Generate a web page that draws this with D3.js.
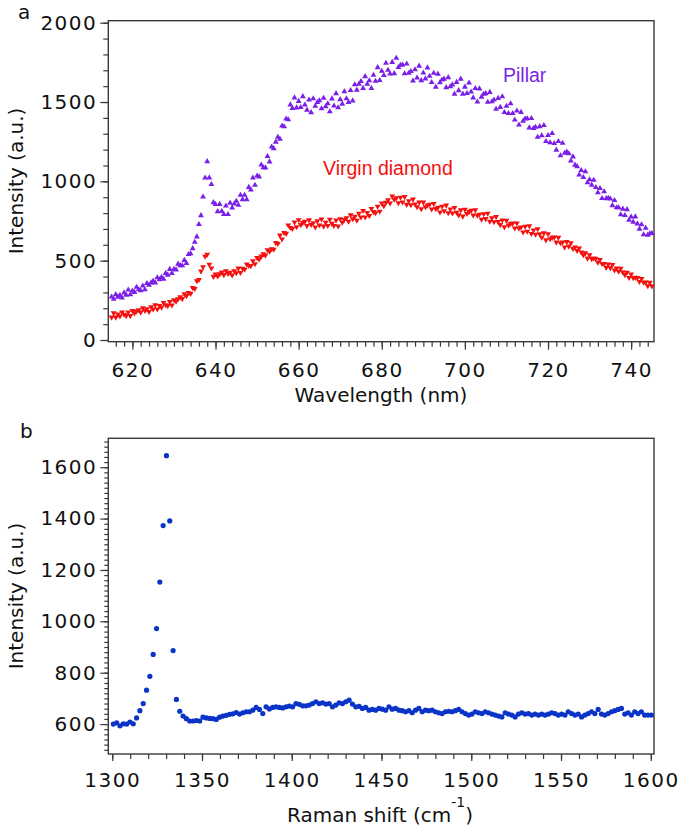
<!DOCTYPE html>
<html><head><meta charset="utf-8">
<script src="https://cdn.jsdelivr.net/npm/d3@7"></script>
<style>body{margin:0;background:#fff}</style>
</head><body>
<svg id="c" width="685" height="833"></svg>
<script>
// ---------- Panel a: photoluminescence spectra (wavelength grid 615..745 nm, 0.5 nm step)
const wlStart = 615, wlStep = 0.5;
const pillar = [
272,258,287,271,282,266,298,284,316,287,310,301,333,318,311,341,318,357,346,361,
372,360,393,381,396,384,421,410,446,420,446,443,479,470,469,503,484,540,545,577,
617,651,729,785,902,1022,1125,1023,981,867,855,810,856,812,792,846,792,864,834,858,
876,850,913,886,913,886,963,947,1022,976,1035,1029,1104,1087,1086,1158,1124,1217,1207,1248,
1279,1266,1350,1345,1394,1389,1483,1461,1527,1464,1505,1466,1535,1482,1450,1514,1434,1522,1474,1498,
1509,1459,1525,1471,1490,1440,1521,1476,1554,1465,1516,1488,1566,1522,1499,1574,1508,1610,1576,1613,
1630,1587,1661,1613,1635,1587,1670,1632,1718,1637,1695,1668,1745,1701,1678,1751,1680,1777,1719,1733,
1734,1679,1741,1682,1693,1633,1704,1652,1727,1636,1684,1647,1716,1663,1624,1682,1595,1677,1622,1640,
1645,1592,1655,1597,1609,1551,1625,1573,1645,1551,1595,1555,1621,1564,1527,1586,1501,1584,1532,1550,
1554,1500,1562,1503,1514,1455,1524,1467,1534,1435,1474,1429,1490,1429,1388,1444,1356,1436,1380,1395,
1396,1338,1397,1334,1342,1279,1346,1288,1353,1252,1290,1244,1303,1240,1198,1252,1162,1241,1178,1186,
1175,1129,1155,1103,1094,1041,1069,1025,1061,992,1011,977,1008,962,929,956,893,935,892,894,
890,848,880,835,835,790,826,786,823,756,776,744,777,733,700,727,664,706,662,671,672
];
const virgin = [
143,170,143,162,150,176,161,153,176,153,185,170,182,190,175,202,185,195,179,208,
194,221,194,216,206,235,221,216,241,220,253,243,259,271,260,291,279,298,292,329,
324,373,380,433,461,527,540,477,453,400,415,402,417,427,411,436,418,426,409,436,
423,452,425,451,445,478,469,468,498,480,518,510,528,542,534,568,558,574,571,613,
607,660,636,677,671,724,708,702,743,713,757,726,740,747,720,756,727,738,711,750,
724,762,717,741,721,760,734,721,755,718,763,741,759,770,748,788,763,778,754,797,
774,815,774,803,784,828,808,801,842,811,863,845,867,882,863,907,886,895,864,899,
869,903,854,877,852,887,856,839,868,826,868,839,850,855,825,859,827,835,806,842,
814,849,801,825,800,834,804,788,819,780,823,796,809,816,787,819,785,792,760,795,
764,798,748,770,744,777,745,726,755,712,753,723,733,736,705,737,704,711,680,715,
685,719,670,692,666,700,668,647,674,630,669,637,646,648,616,646,612,617,585,619,
591,611,576,585,563,579,553,536,549,515,536,512,515,513,489,506,481,481,457,478,
455,475,440,452,432,451,428,411,426,393,415,392,394,392,368,387,363,364,341,362,340
];
const seriesNamesA = ["Pillar", "Virgin diamond"];
const xTicksA = [620,640,660,680,700,720,740];
const yTicksA = [0,500,1000,1500,2000];

// ---------- Panel b: Raman spectrum (grid from 1300.6 cm-1, 1.85 cm-1 step)
const ramanStart = 1300.6, ramanStep = 1.85;
const raman = [
600,605,593,601,600,608,601,624,652,680,732,786,871,972,1153,1373,1645,1391,886,696,
650,631,621,612,612,
614,612,627,624,622,621,618,627,631,634,638,640,645,639,644,648,648,654,665,657,
641,667,659,665,667,665,663,667,670,667,680,677,671,671,
674,680,687,680,683,678,680,667,674,683,
680,687,693,678,667,669,661,665,654,657,
654,661,658,654,667,658,661,654,652,648,
652,644,654,661,648,654,652,654,648,644,
641,648,650,648,652,657,648,641,635,639,
648,644,641,648,644,639,635,631,628,644,
639,635,628,639,644,639,641,635,639,635,
639,635,639,644,641,635,639,635,648,641,
635,639,628,635,641,648,641,657,639,635,
641,648,652,657,661,639,644,635,648,641,
648,635,635,635
];
const xTicksB = [1300,1350,1400,1450,1500,1550,1600];
const yTicksB = [600,800,1000,1200,1400,1600];

const colPillar = "#7a1fe8", colVirgin = "#f51010", colRaman = "#0a33c8", axisCol = "#3a3a3a";
const tickFont = "'DejaVu Sans', sans-serif";

const svg = d3.select("#c");

function styleAxis(g) {
  g.select(".domain").remove();
  g.selectAll("line").attr("stroke", axisCol).attr("stroke-width", 1.2);
  g.selectAll("text").attr("fill", "#111").style("font-family", tickFont)
   .style("font-size", "20px").style("letter-spacing", "1.5px");
}

function frame(x0, x1, y0, y1) {
  svg.append("rect").attr("x", x0).attr("y", y0).attr("width", x1 - x0).attr("height", y1 - y0)
    .attr("fill", "none").attr("stroke", axisCol).attr("stroke-width", 1.4);
}

// ===== Panel a =====
const xA = d3.scaleLinear().domain([614.2, 745.5]).range([108.3, 654]);
const yA = d3.scaleLinear().domain([-10.7, 2012.6]).range([341.7, 20.7]);

svg.append("g").attr("transform", `translate(0,${yA.range()[0]})`)
  .call(d3.axisBottom(xA).tickValues(d3.range(616, 745, 2)).tickSize(5).tickFormat(""))
  .call(styleAxis);
svg.append("g").attr("transform", `translate(0,${yA.range()[0]})`)
  .call(d3.axisBottom(xA).tickValues(xTicksA).tickSize(8).tickPadding(13).tickFormat(d3.format("d")))
  .call(styleAxis);
svg.append("g").attr("transform", `translate(${xA.range()[0]},0)`)
  .call(d3.axisLeft(yA).tickValues(d3.range(0, 2001, 100)).tickSize(5).tickFormat(""))
  .call(styleAxis);
svg.append("g").attr("transform", `translate(${xA.range()[0]},0)`)
  .call(d3.axisLeft(yA).tickValues(yTicksA).tickSize(8).tickPadding(3).tickFormat(d3.format("d")))
  .call(styleAxis);
frame(108.3, 654, 20.7, 341.7);

const triUp = d3.symbol().type(d3.symbolTriangle).size(15)();
svg.append("g").selectAll("path").data(pillar).join("path")
  .attr("d", triUp)
  .attr("transform", (d, i) => `translate(${xA(wlStart + i * wlStep)},${yA(d)})`)
  .attr("fill", colPillar);
svg.append("g").selectAll("path").data(virgin).join("path")
  .attr("d", triUp)
  .attr("transform", (d, i) => `translate(${xA(wlStart + i * wlStep)},${yA(d)}) rotate(180)`)
  .attr("fill", colVirgin);

svg.append("text").attr("x", 503).attr("y", 81.5).text(seriesNamesA[0])
  .attr("fill", colPillar).style("font-family", "'Liberation Sans', Arial, sans-serif").style("font-size", "19.5px");
svg.append("text").attr("x", 323).attr("y", 174.5).text(seriesNamesA[1])
  .attr("fill", colVirgin).style("font-family", "'Liberation Sans', Arial, sans-serif").style("font-size", "19.5px");

svg.append("text").attr("x", 381).attr("y", 402).attr("text-anchor", "middle")
  .style("font-family", tickFont).style("font-size", "20px").attr("fill", "#111").text("Wavelength (nm)");
svg.append("text").attr("transform", "translate(23,181) rotate(-90)").attr("text-anchor", "middle")
  .style("font-family", tickFont).style("font-size", "20px").attr("fill", "#111").text("Intensity (a.u.)");
svg.append("text").attr("x", 18).attr("y", 18.5)
  .style("font-family", tickFont).style("font-size", "20px").attr("fill", "#111").text("a");

// ===== Panel b =====
const xB = d3.scaleLinear().domain([1297.8, 1601.8]).range([108.3, 654]);
const yB = d3.scaleLinear().domain([483.5, 1712.6]).range([754, 438.3]);

svg.append("g").attr("transform", `translate(0,${yB.range()[0]})`)
  .call(d3.axisBottom(xB).tickValues(d3.range(1300, 1601, 10)).tickSize(5).tickFormat(""))
  .call(styleAxis);
svg.append("g").attr("transform", `translate(0,${yB.range()[0]})`)
  .call(d3.axisBottom(xB).tickValues(xTicksB).tickSize(7).tickPadding(12).tickFormat(d3.format("d")))
  .call(styleAxis);
svg.append("g").attr("transform", `translate(${xB.range()[0]},0)`)
  .call(d3.axisLeft(yB).tickValues(d3.range(500, 1701, 20)).tickSize(4).tickFormat(""))
  .call(styleAxis);
svg.append("g").attr("transform", `translate(${xB.range()[0]},0)`)
  .call(d3.axisLeft(yB).tickValues(yTicksB).tickSize(8).tickPadding(3).tickFormat(d3.format("d")))
  .call(styleAxis);
frame(108.3, 654, 438.3, 754);

svg.append("g").selectAll("circle").data(raman).join("circle")
  .attr("cx", (d, i) => xB(ramanStart + i * ramanStep))
  .attr("cy", d => yB(d))
  .attr("r", 2.6)
  .attr("fill", colRaman);

const rl = svg.append("text").attr("x", 380).attr("y", 821.5).attr("text-anchor", "middle")
  .style("font-family", tickFont).style("font-size", "20px").attr("fill", "#111");
rl.append("tspan").text("Raman shift (cm");
rl.append("tspan").attr("dy", -15).style("font-size", "14px").text("-1");
rl.append("tspan").attr("dy", 15).text(")");
svg.append("text").attr("transform", "translate(23,596) rotate(-90)").attr("text-anchor", "middle")
  .style("font-family", tickFont).style("font-size", "20px").attr("fill", "#111").text("Intensity (a.u.)");
svg.append("text").attr("x", 20).attr("y", 438)
  .style("font-family", tickFont).style("font-size", "20px").attr("fill", "#111").text("b");
</script>
</body></html>
